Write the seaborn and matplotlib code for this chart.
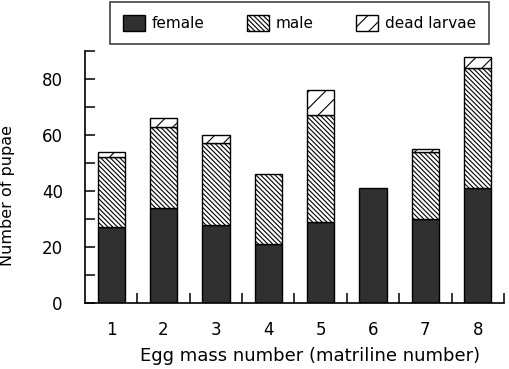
import numpy as np
import pandas as pd
import matplotlib
matplotlib.use('Agg')
import matplotlib.pyplot as plt
import seaborn as sns
from matplotlib.ticker import FixedLocator

# egg masses (matrilines) 1-8
egg_mass = ['1', '2', '3', '4', '5', '6', '7', '8']
female = [27, 34, 28, 21, 29, 41, 30, 41]
male = [25, 29, 29, 25, 38, 0, 24, 43]
dead_larvae = [2, 3, 3, 0, 9, 0, 1, 4]

df = pd.DataFrame({'egg': egg_mass, 'female': female, 'male': male, 'dead': dead_larvae})
df['male_bottom'] = df['female']
df['dead_bottom'] = df['female'] + df['male']

sns.set_style('white')
plt.rcParams['font.family'] = ['DejaVu Sans']
plt.rcParams['hatch.linewidth'] = 0.8
plt.rcParams['text.color'] = 'black'
plt.rcParams['axes.labelcolor'] = 'black'
plt.rcParams['xtick.color'] = 'black'
plt.rcParams['ytick.color'] = 'black'

fig = plt.figure(figsize=(5.09, 3.69), dpi=100)
ax = fig.add_axes([0.167, 0.179, 0.823, 0.683])

w = 0.52
sns.barplot(data=df, x='egg', y='female', color='#303030', edgecolor='black',
            linewidth=1, width=w, ax=ax, label='female')
sns.barplot(data=df, x='egg', y='male', bottom=df['male_bottom'], color='white',
            edgecolor='black', hatch='\\' * 7, linewidth=1, width=w, ax=ax, label='male')
sns.barplot(data=df, x='egg', y='dead', bottom=df['dead_bottom'], color='white',
            edgecolor='black', hatch='//', linewidth=1, width=w, ax=ax, label='dead larvae')

# hide zero-height segments
for p in ax.patches:
    if p.get_height() == 0:
        p.set_visible(False)

ax.set_xlim(-0.5, 7.5)
ax.set_ylim(0, 90)
ax.set_yticks([0, 20, 40, 60, 80])
ax.yaxis.set_minor_locator(FixedLocator([10, 30, 50, 70, 90]))
ax.xaxis.set_minor_locator(FixedLocator(np.arange(0.5, 8, 1)))
ax.tick_params(axis='y', which='both', left=True, direction='in', length=7, width=1.1,
               labelsize=12, pad=16)
ax.tick_params(axis='x', which='major', bottom=True, length=0, labelsize=12, pad=13)
ax.tick_params(axis='x', which='minor', bottom=True, direction='in', length=7, width=1.1)

for s in ['top', 'right']:
    ax.spines[s].set_visible(False)
for s in ['left', 'bottom']:
    ax.spines[s].set_linewidth(1.2)
    ax.spines[s].set_color('black')

ax.set_xlabel('Egg mass number (matriline number)', fontsize=13)
ax.set_ylabel('Number of pupae', fontsize=11.5)
ax.xaxis.set_label_coords(0.538, -0.175)
ax.yaxis.set_label_coords(-0.166, 0.425)

handles, labels = ax.get_legend_handles_labels()
if ax.get_legend() is not None:
    ax.get_legend().remove()
leg = fig.legend(handles, labels, ncol=3, loc='upper left', bbox_to_anchor=(0.216, 0.995),
                 borderaxespad=0, fontsize=11, frameon=True, fancybox=False,
                 edgecolor='black', handlelength=1.44, handleheight=1.3,
                 columnspacing=2.75, handletextpad=0.46, borderpad=0.85)
leg.get_frame().set_linewidth(1.1)

fig.savefig('out.png', dpi=100)
